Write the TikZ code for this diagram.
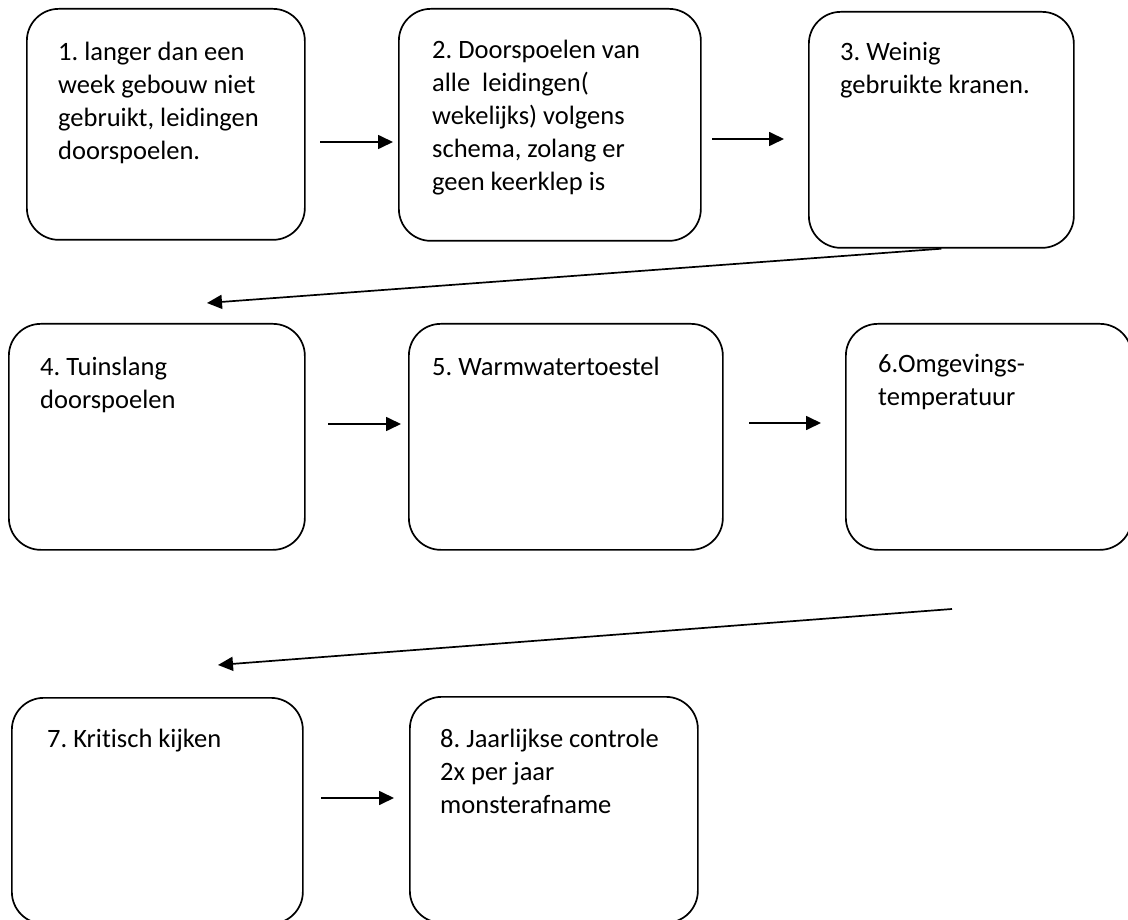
\documentclass[tikz,border=0pt]{standalone}
\usepackage{fontspec}
\setmainfont{Carlito}[Ligatures=CommonOff]
\usetikzlibrary{arrows.meta}
\begin{document}
\frenchspacing
\begin{tikzpicture}[x=1pt,y=-1pt,
  boxst/.style={draw,line width=1.7pt,rounded corners=32pt,inner sep=0pt,anchor=north west},
  txt/.style={anchor=north west,inner sep=0pt,align=left,font=\fontsize{26.5}{33}\selectfont},
  arr/.style={line width=1.7pt,-{Triangle[length=15pt,width=14pt]}}]
\useasboundingbox (0,0) rectangle (1128,920);
\clip (0,0) rectangle (1128,920);
% boxes
\node[boxst,minimum width=278pt,minimum height=231pt] (b1) at (26,8) {};
\node[boxst,minimum width=302pt,minimum height=232pt] (b2) at (398,8) {};
\node[boxst,minimum width=265pt,minimum height=236pt] (b3) at (808,11) {};
\node[boxst,minimum width=296pt,minimum height=226pt] (b4) at (8,323) {};
\node[boxst,minimum width=314pt,minimum height=226pt] (b5) at (408,323) {};
\node[boxst,minimum width=286pt,minimum height=226pt] (b6) at (845,323) {};
\node[boxst,minimum width=291pt,minimum height=226pt] (b7) at (11,697) {};
\node[boxst,minimum width=288pt,minimum height=226pt] (b8) at (409,696) {};
% texts
\node[txt] (t1) at (58,42) {1. langer dan een\\week gebouw niet\\gebruikt, leidingen\\doorspoelen.};
\node[txt] (t2) at (432,40) {2. Doorspoelen van\\alle\ \ leidingen(\\wekelijks) volgens\\schema, zolang er\\geen keerklep is};
\node[txt] (t3) at (840,42) {3. Weinig\\gebruikte kranen.};
\node[txt] (t4) at (40,357) {4. Tuinslang\\doorspoelen};
\node[txt] (t5) at (432,357) {5. Warmwatertoestel};
\node[txt] (t6) at (878,354) {6.Omgevings-\\temperatuur};
\node[txt] (t7) at (47,729) {7. Kritisch kijken};
\node[txt] (t8) at (440,729) {8. Jaarlijkse controle\\2x per jaar\\monsterafname};
% arrow end points
\coordinate (a1s) at (320,142); \coordinate (a1e) at (393,142);
\coordinate (a2s) at (712,139); \coordinate (a2e) at (784,139);
\coordinate (a3e) at (207,303);
\coordinate (a4s) at (328,424); \coordinate (a4e) at (401,424);
\coordinate (a5s) at (749,423); \coordinate (a5e) at (821,423);
\coordinate (a6s) at (952,609); \coordinate (a6e) at (218,665);
\coordinate (a7s) at (321,798); \coordinate (a7e) at (394,798);
\draw[arr] (a1s) -- (a1e);
\draw[arr] (a2s) -- (a2e);
\draw[arr] (b3.south) -- (a3e);
\draw[arr] (a4s) -- (a4e);
\draw[arr] (a5s) -- (a5e);
\draw[arr] (a6s) -- (a6e);
\draw[arr] (a7s) -- (a7e);
\end{tikzpicture}
\end{document}
